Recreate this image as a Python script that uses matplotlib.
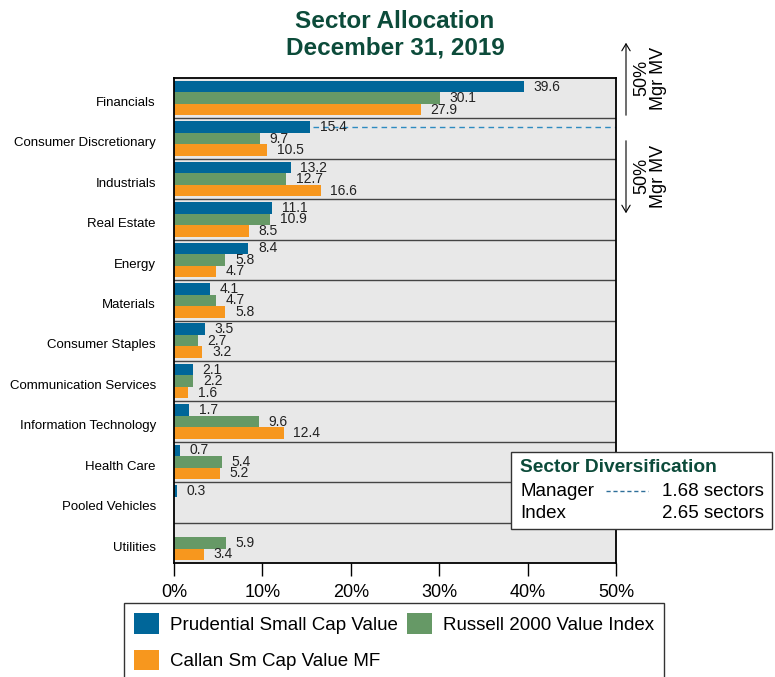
import numpy as np
import matplotlib.pyplot as plt
from matplotlib.patches import Rectangle, FancyArrowPatch
from matplotlib.lines import Line2D

plt.rcParams['font.family'] = ['Liberation Sans', 'DejaVu Sans']

sectors = ["Financials", "Consumer Discretionary", "Industrials", "Real Estate",
           "Energy", "Materials", "Consumer Staples", "Communication Services",
           "Information Technology", "Health Care", "Pooled Vehicles", "Utilities"]
manager = [39.6, 15.4, 13.2, 11.1, 8.4, 4.1, 3.5, 2.1, 1.7, 0.7, 0.3, np.nan]
index = [30.1, 9.7, 12.7, 10.9, 5.8, 4.7, 2.7, 2.2, 9.6, 5.4, np.nan, 5.9]
callan = [27.9, 10.5, 16.6, 8.5, 4.7, 5.8, 3.2, 1.6, 12.4, 5.2, np.nan, 3.4]
series_names = ["Prudential Small Cap Value", "Russell 2000 Value Index", "Callan Sm Cap Value MF"]
colors = ["#006699", "#669966", "#f7971e"]
mgr_div = 1.68
idx_div = 2.65

W, H = 775, 677
fig = plt.figure(figsize=(W / 100, H / 100), dpi=100)


def fx(px):
    return px / W


def fy(py):
    return 1 - py / H


ax = fig.add_axes([fx(174), fy(563), fx(616) - fx(174), fy(78) - fy(563)])
ax.set_facecolor("#e8e8e8")

y = np.arange(len(sectors))
h = 0.285
offsets = [-h, 0, h]
handles = []
for vals, off, c, name in zip([manager, index, callan], offsets, colors, series_names):
    v = np.nan_to_num(np.array(vals, dtype=float))
    b = ax.barh(y + off, v, height=h, color=c, label=name)
    handles.append(b)
    for yi, val in zip(y, vals):
        if not np.isnan(val):
            ax.text(val + 1.1, yi + off, f"{val:.1f}", va="center", ha="left",
                    fontsize=10, color="#222222")

for i in range(len(sectors) - 1):
    ax.axhline(i + 0.5, color="#444444", lw=1)

# manager diversification line
ax.plot([manager[1] + 0.3, 50], [1 - h, 1 - h], ls=(0, (4, 3)), color="#2e8bc0", lw=1)

ax.set_xlim(0, 50)
ax.set_ylim(len(sectors) - 0.5, -0.5)
ax.set_yticks(y + 0.08)
ax.set_yticklabels(sectors, fontsize=9.5)
ax.tick_params(axis="y", length=0, pad=13)
ax.set_xticks(np.arange(0, 51, 10))
ax.set_xticklabels([f"{t}%" for t in range(0, 51, 10)], fontsize=13)
ax.tick_params(axis="x", length=9, width=1, pad=6)
for s in ax.spines.values():
    s.set_color("black")
    s.set_linewidth(1.3)

fig.text(fx(395), fy(35), "Sector Allocation\nDecember 31, 2019", ha="center", va="center",
         fontsize=17.5, fontweight="bold", color="#0c4b3a", linespacing=1.2)

# arrows on right
for (y0, y1, yc) in [(118, 40, 78), (138, 216, 176)]:
    arr = FancyArrowPatch((fx(626), fy(y0)), (fx(626), fy(y1)), transform=fig.transFigure,
                          arrowstyle="->,head_length=5,head_width=3", color="black", lw=0.8)
    fig.add_artist(arr)
    fig.text(fx(650), fy(yc), "50%\nMgr MV", rotation=90, ha="center", va="center",
             fontsize=13, multialignment="center", linespacing=0.95)

# diversification box
fig.add_artist(Rectangle((fx(511), fy(529)), fx(772) - fx(511), fy(452) - fy(529),
                         transform=fig.transFigure, facecolor="white", edgecolor="#333333", lw=1))
fig.text(fx(520), fy(467), "Sector Diversification", fontsize=13.8, fontweight="bold",
         color="#0c4b3a", va="center")
fig.text(fx(520), fy(491), "Manager", fontsize=13.5, va="center")
fig.add_artist(Line2D([fx(606), fx(648)], [fy(491), fy(491)], transform=fig.transFigure,
                      ls=(0, (3, 2)), color="#2e6f99", lw=1))
fig.text(fx(764), fy(491), f"{mgr_div:.2f} sectors", fontsize=13.5, va="center", ha="right")
fig.text(fx(520), fy(514), "Index", fontsize=13.5, va="center")
fig.text(fx(764), fy(514), f"{idx_div:.2f} sectors", fontsize=13.5, va="center", ha="right")

leg = fig.legend([handles[0], handles[2], handles[1]],
                 [series_names[0], series_names[2], series_names[1]],
                 loc="upper left", bbox_to_anchor=(fx(124), fy(603)), ncol=2,
                 fontsize=13.5, frameon=True, fancybox=False, edgecolor="black",
                 handlelength=1.3, handleheight=1.3, handletextpad=0.6, columnspacing=0.5,
                 borderpad=0.55, labelspacing=0.85, borderaxespad=0)
leg.get_frame().set_linewidth(1)

fig.savefig("out.png", dpi=100)
